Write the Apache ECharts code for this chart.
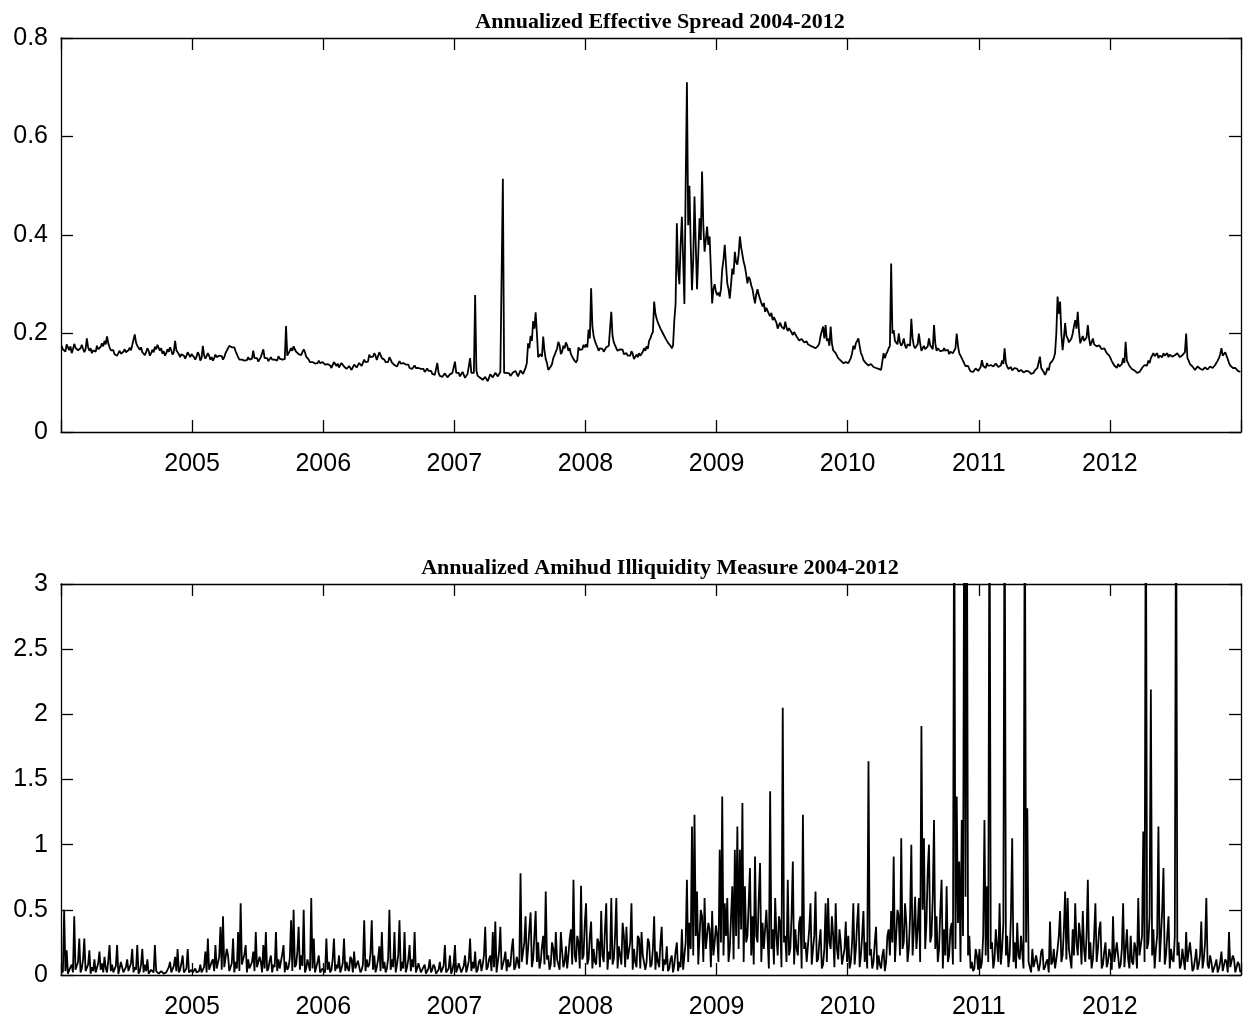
<!DOCTYPE html>
<html>
<head>
<meta charset="utf-8">
<script src="https://cdn.jsdelivr.net/npm/echarts@6/dist/echarts.min.js"></script>
<style>
html,body{margin:0;padding:0;background:#fff;}
#chart{width:1244px;height:1020px;}
</style>
</head>
<body>
<div id="chart"></div>
<script>
// ---- Data (readings twice a week, one array per calendar year) ----
const YEARS = [2004, 2005, 2006, 2007, 2008, 2009, 2010, 2011, 2012];
const X_TICK_LABELS = ['2005', '2006', '2007', '2008', '2009', '2010', '2011', '2012'];
const TITLE_TOP = 'Annualized Effective Spread 2004-2012';
const TITLE_BOTTOM = 'Annualized Amihud Illiquidity Measure 2004-2012';

// Annualized effective spread
const spread2004 = [0.175,0.168,0.171,0.163,0.178,0.172,0.166,0.174,0.160,0.168,0.179,0.171,0.174,0.166,0.163,0.170,0.177,0.169,0.162,0.168,0.190,0.172,0.165,0.170,0.160,0.166,0.169,0.163,0.175,0.168,0.166,0.173,0.180,0.174,0.185,0.178,0.194,0.180,0.172,0.166,0.162,0.166,0.158,0.162,0.155,0.160,0.165,0.159,0.157,0.163,0.168,0.162,0.160,0.166,0.171,0.166,0.176,0.180,0.198,0.182,0.175,0.171,0.167,0.172,0.162,0.158,0.156,0.162,0.170,0.165,0.155,0.160,0.167,0.162,0.173,0.168,0.177,0.171,0.165,0.170,0.159,0.164,0.155,0.160,0.168,0.163,0.172,0.166,0.157,0.162,0.185,0.166,0.162,0.158,0.152,0.158,0.161,0.155,0.149,0.155,0.162,0.157,0.152,0.158];
const spread2005 = [0.158,0.152,0.147,0.153,0.162,0.157,0.145,0.150,0.175,0.156,0.149,0.154,0.160,0.155,0.147,0.152,0.145,0.150,0.157,0.152,0.149,0.155,0.159,0.154,0.147,0.152,0.160,0.156,0.170,0.175,0.177,0.172,0.168,0.172,0.164,0.158,0.152,0.147,0.143,0.147,0.150,0.145,0.141,0.146,0.152,0.147,0.144,0.149,0.165,0.150,0.146,0.150,0.143,0.147,0.152,0.148,0.168,0.150,0.146,0.150,0.144,0.148,0.152,0.147,0.143,0.147,0.150,0.145,0.154,0.149,0.152,0.147,0.143,0.148,0.215,0.155,0.160,0.165,0.170,0.165,0.174,0.168,0.163,0.167,0.158,0.162,0.156,0.160,0.168,0.162,0.153,0.157,0.147,0.142,0.138,0.142,0.144,0.139,0.136,0.140,0.145,0.140,0.138,0.142];
const spread2006 = [0.141,0.137,0.133,0.138,0.140,0.135,0.130,0.134,0.142,0.138,0.134,0.139,0.131,0.135,0.140,0.136,0.133,0.137,0.128,0.132,0.134,0.130,0.126,0.130,0.137,0.133,0.131,0.135,0.140,0.136,0.134,0.138,0.147,0.142,0.138,0.143,0.157,0.152,0.148,0.153,0.160,0.155,0.146,0.150,0.162,0.156,0.150,0.154,0.147,0.142,0.138,0.142,0.152,0.147,0.141,0.145,0.136,0.140,0.133,0.137,0.144,0.139,0.136,0.140,0.142,0.137,0.133,0.137,0.130,0.134,0.128,0.132,0.135,0.130,0.126,0.130,0.132,0.128,0.124,0.128,0.122,0.126,0.129,0.124,0.120,0.124,0.118,0.122,0.116,0.120,0.140,0.120,0.114,0.118,0.112,0.116,0.119,0.115,0.111,0.115,0.117,0.113,0.120,0.116];
const spread2007 = [0.143,0.120,0.116,0.120,0.113,0.117,0.122,0.118,0.110,0.114,0.118,0.114,0.150,0.120,0.116,0.120,0.278,0.125,0.114,0.118,0.110,0.114,0.106,0.110,0.112,0.108,0.103,0.107,0.117,0.113,0.111,0.115,0.120,0.116,0.113,0.117,0.122,0.118,0.514,0.120,0.116,0.120,0.123,0.119,0.114,0.118,0.121,0.117,0.124,0.120,0.113,0.117,0.125,0.121,0.118,0.122,0.130,0.140,0.180,0.170,0.195,0.185,0.225,0.210,0.243,0.200,0.152,0.148,0.158,0.153,0.194,0.165,0.148,0.140,0.126,0.130,0.133,0.138,0.150,0.156,0.163,0.169,0.183,0.176,0.158,0.163,0.175,0.170,0.182,0.176,0.165,0.170,0.158,0.162,0.148,0.152,0.141,0.146,0.172,0.167,0.163,0.168,0.177,0.172];
const spread2008 = [0.178,0.172,0.208,0.190,0.292,0.215,0.195,0.185,0.178,0.172,0.165,0.170,0.174,0.169,0.163,0.167,0.172,0.168,0.175,0.171,0.244,0.195,0.182,0.176,0.170,0.165,0.163,0.168,0.172,0.167,0.158,0.162,0.160,0.155,0.151,0.155,0.164,0.159,0.148,0.152,0.157,0.152,0.160,0.155,0.158,0.163,0.170,0.165,0.174,0.169,0.185,0.190,0.198,0.203,0.265,0.240,0.230,0.222,0.216,0.210,0.207,0.200,0.196,0.190,0.187,0.181,0.180,0.175,0.170,0.176,0.227,0.260,0.424,0.330,0.300,0.380,0.437,0.350,0.260,0.500,0.710,0.420,0.500,0.380,0.288,0.350,0.478,0.380,0.290,0.360,0.434,0.390,0.529,0.420,0.366,0.390,0.417,0.380,0.397,0.330,0.261,0.290,0.300,0.285];
const spread2009 = [0.278,0.283,0.275,0.290,0.330,0.350,0.380,0.340,0.302,0.290,0.271,0.300,0.332,0.320,0.366,0.345,0.340,0.360,0.397,0.375,0.360,0.345,0.336,0.320,0.302,0.315,0.310,0.298,0.290,0.275,0.261,0.280,0.290,0.278,0.270,0.262,0.255,0.262,0.244,0.252,0.250,0.240,0.235,0.242,0.227,0.233,0.230,0.222,0.210,0.217,0.222,0.214,0.215,0.209,0.224,0.212,0.205,0.211,0.210,0.202,0.197,0.203,0.200,0.194,0.190,0.186,0.183,0.189,0.188,0.182,0.180,0.184,0.178,0.174,0.175,0.179,0.173,0.169,0.170,0.174,0.175,0.180,0.195,0.205,0.214,0.190,0.217,0.185,0.190,0.175,0.214,0.180,0.166,0.170,0.160,0.155,0.150,0.154,0.145,0.149,0.140,0.144,0.142,0.138];
const spread2010 = [0.140,0.145,0.150,0.160,0.175,0.168,0.180,0.176,0.190,0.175,0.160,0.155,0.146,0.150,0.140,0.144,0.135,0.139,0.138,0.134,0.132,0.136,0.130,0.134,0.128,0.132,0.126,0.130,0.160,0.150,0.158,0.163,0.170,0.175,0.342,0.200,0.207,0.185,0.185,0.178,0.200,0.182,0.175,0.180,0.190,0.176,0.170,0.178,0.182,0.175,0.230,0.190,0.175,0.170,0.173,0.178,0.200,0.180,0.165,0.170,0.175,0.168,0.168,0.174,0.190,0.176,0.172,0.168,0.217,0.180,0.165,0.170,0.170,0.164,0.160,0.165,0.170,0.165,0.162,0.167,0.158,0.163,0.165,0.160,0.160,0.170,0.200,0.175,0.160,0.155,0.150,0.145,0.139,0.134,0.130,0.134,0.128,0.123,0.119,0.122,0.125,0.129,0.128,0.124];
const spread2011 = [0.125,0.132,0.146,0.134,0.135,0.130,0.140,0.134,0.130,0.136,0.140,0.133,0.135,0.139,0.138,0.132,0.130,0.135,0.145,0.138,0.170,0.140,0.133,0.128,0.128,0.132,0.125,0.129,0.130,0.126,0.128,0.123,0.122,0.126,0.125,0.121,0.120,0.124,0.128,0.123,0.122,0.118,0.116,0.120,0.125,0.121,0.130,0.126,0.153,0.130,0.128,0.122,0.116,0.121,0.130,0.125,0.139,0.135,0.145,0.150,0.160,0.200,0.275,0.240,0.265,0.200,0.166,0.190,0.221,0.195,0.190,0.182,0.180,0.190,0.200,0.215,0.227,0.210,0.244,0.205,0.180,0.188,0.195,0.185,0.185,0.192,0.217,0.190,0.175,0.182,0.190,0.178,0.180,0.174,0.170,0.176,0.175,0.168,0.165,0.170,0.166,0.160,0.160,0.155];
const spread2012 = [0.150,0.144,0.140,0.135,0.135,0.130,0.138,0.133,0.130,0.138,0.150,0.140,0.183,0.145,0.140,0.134,0.135,0.128,0.130,0.125,0.125,0.120,0.116,0.122,0.125,0.130,0.130,0.136,0.140,0.135,0.145,0.140,0.150,0.146,0.160,0.154,0.155,0.160,0.150,0.155,0.158,0.152,0.160,0.155,0.155,0.160,0.152,0.157,0.160,0.153,0.150,0.156,0.155,0.160,0.160,0.152,0.150,0.156,0.158,0.162,0.200,0.150,0.145,0.138,0.139,0.133,0.130,0.126,0.128,0.133,0.135,0.129,0.130,0.126,0.126,0.131,0.132,0.127,0.128,0.133,0.135,0.130,0.130,0.136,0.140,0.145,0.150,0.158,0.170,0.155,0.155,0.162,0.160,0.148,0.140,0.135,0.135,0.130,0.126,0.130,0.130,0.124,0.125,0.122];

// Annualized Amihud illiquidity measure (values above 3 run off the top of the axis)
const amihud2004 = [0.05,0.02,0.50,0.03,0.19,0.01,0.02,0.06,0.08,0.02,0.45,0.04,0.03,0.10,0.28,0.02,0.05,0.12,0.28,0.03,0.02,0.08,0.19,0.01,0.06,0.03,0.12,0.02,0.03,0.09,0.18,0.04,0.09,0.02,0.14,0.05,0.02,0.11,0.23,0.03,0.08,0.02,0.03,0.07,0.23,0.01,0.05,0.10,0.10,0.02,0.02,0.06,0.12,0.03,0.04,0.09,0.20,0.02,0.06,0.04,0.23,0.01,0.03,0.08,0.20,0.02,0.08,0.03,0.12,0.01,0.02,0.04,0.05,0.02,0.23,0.03,0.04,0.01,0.02,0.03,0.03,0.01,0.01,0.02,0.02,0.06,0.10,0.02,0.02,0.07,0.14,0.03,0.20,0.02,0.04,0.09,0.15,0.02,0.03,0.05,0.20,0.02,0.02,0.04];
const amihud2005 = [0.02,0.01,0.05,0.02,0.01,0.03,0.08,0.02,0.03,0.06,0.18,0.02,0.28,0.04,0.04,0.10,0.12,0.03,0.23,0.05,0.05,0.14,0.37,0.04,0.45,0.06,0.06,0.20,0.15,0.03,0.03,0.09,0.28,0.02,0.10,0.05,0.33,0.03,0.55,0.08,0.08,0.16,0.23,0.02,0.12,0.05,0.04,0.10,0.18,0.03,0.33,0.06,0.06,0.14,0.10,0.02,0.23,0.05,0.33,0.03,0.05,0.11,0.15,0.02,0.08,0.06,0.33,0.03,0.12,0.05,0.04,0.16,0.23,0.02,0.10,0.04,0.06,0.13,0.42,0.03,0.50,0.06,0.08,0.18,0.37,0.04,0.15,0.07,0.50,0.02,0.05,0.12,0.12,0.03,0.59,0.05,0.28,0.02,0.06,0.10,0.15,0.02,0.03,0.05];
const amihud2006 = [0.05,0.02,0.28,0.04,0.10,0.02,0.04,0.12,0.28,0.03,0.08,0.05,0.15,0.02,0.05,0.09,0.28,0.03,0.10,0.05,0.03,0.14,0.12,0.02,0.18,0.05,0.06,0.11,0.10,0.02,0.04,0.08,0.42,0.03,0.12,0.06,0.08,0.17,0.42,0.04,0.15,0.02,0.06,0.12,0.22,0.03,0.33,0.05,0.10,0.02,0.05,0.13,0.50,0.04,0.12,0.06,0.33,0.02,0.08,0.15,0.42,0.03,0.10,0.05,0.33,0.02,0.06,0.12,0.23,0.03,0.12,0.06,0.33,0.02,0.05,0.09,0.10,0.02,0.03,0.06,0.08,0.01,0.02,0.05,0.12,0.02,0.04,0.08,0.06,0.01,0.02,0.04,0.10,0.02,0.03,0.07,0.23,0.02,0.02,0.05,0.15,0.01,0.04,0.09];
const amihud2007 = [0.23,0.02,0.05,0.09,0.10,0.02,0.03,0.07,0.15,0.02,0.06,0.11,0.28,0.03,0.10,0.05,0.18,0.02,0.04,0.10,0.12,0.03,0.08,0.15,0.37,0.04,0.06,0.12,0.15,0.03,0.33,0.06,0.41,0.02,0.10,0.18,0.37,0.04,0.05,0.12,0.18,0.03,0.12,0.06,0.08,0.20,0.28,0.04,0.06,0.14,0.15,0.05,0.78,0.10,0.10,0.25,0.45,0.08,0.20,0.35,0.48,0.06,0.12,0.30,0.49,0.10,0.25,0.05,0.10,0.22,0.30,0.08,0.64,0.12,0.15,0.04,0.08,0.25,0.20,0.06,0.33,0.12,0.12,0.04,0.33,0.18,0.06,0.10,0.22,0.05,0.15,0.28,0.35,0.08,0.73,0.15,0.10,0.30,0.25,0.05,0.685,0.12,0.15,0.40];
const amihud2008 = [0.55,0.08,0.12,0.30,0.41,0.05,0.20,0.10,0.08,0.28,0.25,0.06,0.49,0.15,0.10,0.35,0.55,0.04,0.18,0.12,0.59,0.08,0.12,0.30,0.59,0.05,0.22,0.15,0.08,0.40,0.30,0.06,0.37,0.12,0.12,0.25,0.55,0.04,0.20,0.10,0.06,0.30,0.28,0.05,0.33,0.15,0.15,0.04,0.10,0.28,0.25,0.06,0.08,0.20,0.45,0.04,0.18,0.10,0.06,0.25,0.37,0.03,0.12,0.08,0.22,0.03,0.05,0.12,0.15,0.02,0.08,0.18,0.25,0.03,0.10,0.06,0.35,0.04,0.15,0.25,0.73,0.10,0.40,0.20,1.14,0.15,1.23,0.30,0.64,0.08,0.30,0.50,0.45,0.10,0.59,0.20,0.20,0.40,0.35,0.06,0.49,0.15,0.25,0.38];
const amihud2009 = [0.30,0.10,0.96,0.25,1.37,0.15,0.55,0.30,0.59,0.10,0.20,0.45,0.68,0.12,0.96,0.30,1.14,0.20,0.96,0.35,1.32,0.10,0.68,0.25,0.30,0.55,0.82,0.15,0.45,0.08,0.91,0.30,0.25,0.60,0.86,0.10,0.40,0.20,0.20,0.50,0.49,0.05,1.41,0.20,0.35,0.08,0.59,0.30,0.15,0.45,0.40,0.06,2.05,0.25,0.30,0.10,0.73,0.15,0.20,0.45,0.87,0.08,0.35,0.20,0.15,0.40,0.45,0.05,1.23,0.20,0.25,0.10,0.10,0.35,0.55,0.08,0.20,0.30,0.64,0.10,0.12,0.25,0.35,0.05,0.08,0.20,0.55,0.10,0.59,0.25,0.20,0.45,0.30,0.06,0.55,0.20,0.12,0.35,0.25,0.08,0.08,0.20,0.41,0.10];
const amihud2010 = [0.30,0.05,0.10,0.25,0.55,0.08,0.20,0.40,0.55,0.06,0.15,0.30,0.49,0.10,0.25,0.05,1.64,0.15,0.20,0.05,0.10,0.25,0.37,0.04,0.15,0.08,0.05,0.15,0.20,0.03,0.10,0.30,0.35,0.15,0.49,0.25,0.91,0.10,0.30,0.50,0.45,0.15,1.05,0.20,0.25,0.55,0.40,0.10,0.20,0.45,1.00,0.15,0.35,0.60,0.20,0.35,0.59,0.10,1.91,0.50,1.05,0.20,0.40,0.80,1.00,0.25,0.30,0.60,1.19,0.20,0.45,0.10,0.20,0.50,0.73,0.05,0.35,0.15,0.68,0.10,0.15,0.35,0.40,0.08,4.00,0.20,1.37,0.40,0.87,0.10,1.19,0.30,4.00,0.60,4.00,0.15,0.30,0.05,0.10,0.03,0.05,0.20,0.15,0.04];
const amihud2011 = [0.20,0.05,0.10,0.30,1.19,0.15,0.68,0.10,4.00,0.20,0.25,0.05,0.12,0.35,0.35,0.10,0.55,0.08,0.20,0.40,4.00,0.15,0.30,0.06,0.15,0.45,1.05,0.10,0.25,0.05,0.40,0.15,0.12,0.30,0.30,0.05,4.00,0.25,1.28,0.10,0.10,0.02,0.20,0.06,0.05,0.15,0.15,0.03,0.08,0.18,0.20,0.04,0.06,0.10,0.12,0.02,0.41,0.08,0.10,0.20,0.05,0.12,0.20,0.30,0.49,0.10,0.15,0.35,0.64,0.12,0.59,0.20,0.20,0.05,0.35,0.15,0.55,0.25,0.15,0.40,0.30,0.08,0.49,0.20,0.10,0.30,0.73,0.12,0.25,0.05,0.12,0.30,0.55,0.10,0.20,0.35,0.41,0.05,0.08,0.18,0.25,0.06,0.10,0.20];
const amihud2012 = [0.15,0.04,0.45,0.10,0.10,0.25,0.25,0.05,0.08,0.20,0.55,0.06,0.20,0.35,0.12,0.05,0.30,0.10,0.08,0.25,0.20,0.05,0.59,0.15,0.15,0.30,1.10,0.10,4.00,0.20,0.25,0.45,2.19,0.15,0.35,0.05,0.20,0.30,1.14,0.10,0.30,0.50,0.82,0.08,0.15,0.30,0.45,0.05,0.20,0.12,0.10,0.30,4.00,0.15,0.25,0.05,0.08,0.20,0.20,0.04,0.33,0.10,0.10,0.25,0.15,0.03,0.05,0.12,0.20,0.04,0.08,0.15,0.41,0.05,0.12,0.25,0.59,0.08,0.05,0.15,0.10,0.02,0.03,0.08,0.12,0.02,0.05,0.10,0.18,0.03,0.04,0.12,0.10,0.02,0.33,0.06,0.05,0.15,0.12,0.02,0.03,0.10,0.08,0.02];

const SPREAD = [spread2004, spread2005, spread2006, spread2007, spread2008, spread2009, spread2010, spread2011, spread2012];
const AMIHUD = [amihud2004, amihud2005, amihud2006, amihud2007, amihud2008, amihud2009, amihud2010, amihud2011, amihud2012];

function toSeries(byYear) {
  const out = [];
  byYear.forEach(function (vals, k) {
    const n = vals.length;
    vals.forEach(function (v, i) { out.push([YEARS[k] + (i + 0.5) / n, v]); });
  });
  return out;
}

const LABEL_FONT = '"Liberation Sans", Arial, Helvetica, sans-serif';
const TITLE_FONT = '"Liberation Serif", "Times New Roman", Times, serif';
const INK = '#000';

function xAxes(gridIndex) {
  const base = {
    type: 'value', gridIndex: gridIndex, min: 2004, max: 2013, interval: 1,
    splitLine: { show: false },
    axisLine: { show: true, onZero: false, lineStyle: { color: INK, width: 1.3 } },
    axisTick: { show: true, inside: true, length: 12, lineStyle: { color: INK, width: 1.3 } }
  };
  return [
    Object.assign({}, base, {
      position: 'bottom',
      axisLabel: {
        show: true, margin: 20, color: INK, fontSize: 25, fontFamily: LABEL_FONT,
        formatter: function (v) { const s = String(Math.round(v)); return X_TICK_LABELS.indexOf(s) >= 0 ? s : ''; }
      }
    }),
    Object.assign({}, base, { position: 'top', axisLabel: { show: false } })
  ];
}
function yAxes(gridIndex, max, interval) {
  const base = {
    type: 'value', gridIndex: gridIndex, min: 0, max: max, interval: interval,
    splitLine: { show: false },
    axisLine: { show: true, onZero: false, lineStyle: { color: INK, width: 1.3 } },
    axisTick: { show: true, inside: true, length: 12, lineStyle: { color: INK, width: 1.3 } }
  };
  return [
    Object.assign({}, base, {
      position: 'left',
      axisLabel: { show: true, margin: 13, color: INK, fontSize: 25, fontFamily: LABEL_FONT }
    }),
    Object.assign({}, base, { position: 'right', axisLabel: { show: false } })
  ];
}

const chart = echarts.init(document.getElementById('chart'), null, { renderer: 'canvas' });
chart.setOption({
  animation: false,
  backgroundColor: '#ffffff',
  title: [
    { text: TITLE_TOP, left: 655, top: 6, textAlign: 'center',
      textStyle: { fontFamily: TITLE_FONT, fontWeight: 'bold', fontSize: 22, color: INK } },
    { text: TITLE_BOTTOM, left: 655, top: 552, textAlign: 'center',
      textStyle: { fontFamily: TITLE_FONT, fontWeight: 'bold', fontSize: 22, color: INK } }
  ],
  grid: [
    { left: 61, top: 38, width: 1189, height: 394 },
    { left: 61, top: 584, width: 1189, height: 394 }
  ],
  xAxis: xAxes(0).concat(xAxes(1)),
  yAxis: yAxes(0, 0.8, 0.2).concat(yAxes(1, 3, 0.5)),
  series: [
    { type: 'line', xAxisIndex: 0, yAxisIndex: 0, data: toSeries(SPREAD), showSymbol: false,
      lineStyle: { color: INK, width: 1.8 }, clip: true },
    { type: 'line', xAxisIndex: 2, yAxisIndex: 2, data: toSeries(AMIHUD), showSymbol: false,
      lineStyle: { color: INK, width: 1.8 }, clip: true }
  ]
});
</script>
</body>
</html>
